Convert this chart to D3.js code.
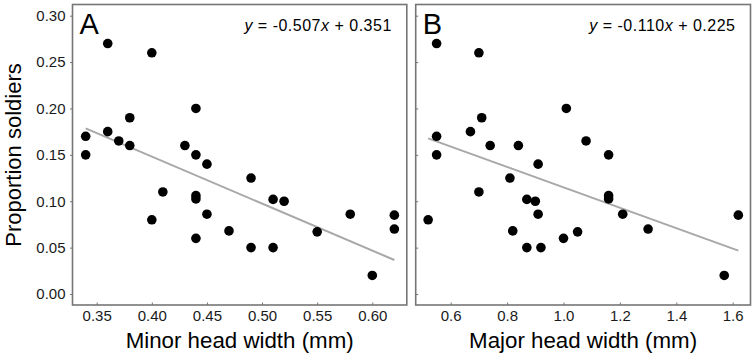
<!DOCTYPE html>
<html>
<head>
<meta charset="utf-8">
<script src="https://cdn.jsdelivr.net/npm/d3@7"></script>
<style>
  html, body { margin: 0; padding: 0; background: #fff; }
  svg { display: block; font-family: "Liberation Sans", Arial, sans-serif; }
</style>
</head>
<body>
<svg id="chart" width="755" height="358"></svg>
<script>
// ---- Data ----
const minorWidth = [0.34, 0.34, 0.36, 0.36, 0.37, 0.38, 0.38, 0.40, 0.40, 0.41, 0.43, 0.44, 0.44, 0.44, 0.44, 0.44, 0.45, 0.45, 0.47, 0.49, 0.49, 0.51, 0.51, 0.52, 0.55, 0.58, 0.60, 0.62, 0.62];
const soldiersA  = [0.17, 0.15, 0.27, 0.175, 0.165, 0.19, 0.16, 0.26, 0.08, 0.11, 0.16, 0.20, 0.15, 0.106, 0.1025, 0.06, 0.14, 0.086, 0.068, 0.125, 0.05, 0.102, 0.05, 0.10, 0.067, 0.086, 0.02, 0.085, 0.07];

const majorWidth = [0.55, 0.70, 1.01, 0.71, 0.55, 0.67, 0.74, 0.84, 1.08, 0.55, 1.16, 0.91, 0.81, 0.70, 0.87, 0.90, 1.16, 1.16, 0.91, 0.52, 1.21, 0.82, 1.05, 1.00, 0.87, 0.92, 1.30, 1.57, 1.62];
const soldiersB  = [0.27, 0.26, 0.20, 0.19, 0.17, 0.175, 0.16, 0.16, 0.165, 0.15, 0.15, 0.14, 0.125, 0.11, 0.102, 0.10, 0.106, 0.1025, 0.086, 0.08, 0.086, 0.068, 0.067, 0.06, 0.05, 0.05, 0.07, 0.02, 0.085];

const slopeA = -0.507, interceptA = 0.351;
const slopeB = -0.110, interceptB = 0.225;

const yTicks = [0.00, 0.05, 0.10, 0.15, 0.20, 0.25, 0.30];
const xTicksA = [0.35, 0.40, 0.45, 0.50, 0.55, 0.60];
const xTicksB = [0.6, 0.8, 1.0, 1.2, 1.4, 1.6];

const panelLabels = ["A", "B"];
const equations = [
  {slope: "-0.507", intercept: "0.351"},
  {slope: "-0.110", intercept: "0.225"}
];
const xTitles = ["Minor head width (mm)", "Major head width (mm)"];
const yTitle = "Proportion soldiers";

// ---- Layout ----
const svg = d3.select("#chart");
const frameTop = 4.5, frameBottom = 305;
const frames = [
  {left: 72.5, right: 406.8},
  {left: 415.7, right: 750.5}
];

const y = d3.scaleLinear().domain([0, 0.30]).range([294, 15.7]);
const xA = d3.scaleLinear().domain([0.35, 0.60]).range([96.7, 372.3]);
const xB = d3.scaleLinear().domain([0.6, 1.6]).range([450.7, 732.7]);

const frameColor = "#767676";
const tickFont = 15;

const panels = [
  {x: xA, xs: minorWidth, ys: soldiersA, slope: slopeA, intercept: interceptA, xTicks: xTicksA, fmt: d3.format(".2f")},
  {x: xB, xs: majorWidth, ys: soldiersB, slope: slopeB, intercept: interceptB, xTicks: xTicksB, fmt: d3.format(".1f")}
];

panels.forEach((p, i) => {
  const f = frames[i];
  const g = svg.append("g");

  // x axis ticks (inward) + labels
  const xAxis = g.append("g")
    .attr("transform", `translate(0,${frameBottom})`)
    .call(d3.axisBottom(p.x).tickValues(p.xTicks).tickFormat(p.fmt).tickSize(-2.5).tickPadding(5));
  xAxis.select(".domain").remove();
  xAxis.selectAll("line").attr("stroke", frameColor).attr("stroke-width", 1);
  xAxis.selectAll("text").attr("font-size", tickFont).attr("fill", "#1a1a1a")
    .attr("font-family", "'Liberation Sans', Arial, sans-serif")
    .attr("dy", "0.72em");

  // y axis ticks
  const yAxis = g.append("g")
    .attr("transform", `translate(${f.left},0)`)
    .call(d3.axisLeft(y).tickValues(yTicks).tickFormat(i === 0 ? d3.format(".2f") : "")
      .tickSize(i === 0 ? 2.5 : -2.5).tickPadding(4.5));
  yAxis.select(".domain").remove();
  yAxis.selectAll("line").attr("stroke", frameColor).attr("stroke-width", 1);
  yAxis.selectAll("text").attr("font-size", tickFont).attr("fill", "#1a1a1a")
    .attr("font-family", "'Liberation Sans', Arial, sans-serif");

  // frame
  g.append("rect")
    .attr("x", f.left).attr("y", frameTop)
    .attr("width", f.right - f.left).attr("height", frameBottom - frameTop)
    .attr("fill", "none").attr("stroke", frameColor).attr("stroke-width", 1.6);

  // regression line
  const xmin = d3.min(p.xs), xmax = d3.max(p.xs);
  g.append("line")
    .attr("x1", p.x(xmin)).attr("y1", y(p.slope * xmin + p.intercept))
    .attr("x2", p.x(xmax)).attr("y2", y(p.slope * xmax + p.intercept))
    .attr("stroke", "#a8a8a8").attr("stroke-width", 2);

  // points
  g.selectAll("circle.pt")
    .data(p.xs.map((v, k) => [v, p.ys[k]]))
    .join("circle")
    .attr("class", "pt")
    .attr("cx", d => p.x(d[0]))
    .attr("cy", d => y(d[1]))
    .attr("r", 4.8)
    .attr("fill", "#000");

  // panel letter
  g.append("text")
    .attr("x", f.left + 7).attr("y", 34.3)
    .attr("font-size", 29)
    .attr("fill", "#000")
    .text(panelLabels[i]);

  // equation
  const eq = g.append("text")
    .attr("x", f.right - 15).attr("y", 31)
    .attr("text-anchor", "end")
    .attr("font-size", 16)
    .attr("letter-spacing", 0.5)
    .attr("fill", "#000");
  eq.append("tspan").attr("font-style", "italic").text("y");
  eq.append("tspan").text(` = ${equations[i].slope}`);
  eq.append("tspan").attr("font-style", "italic").text("x");
  eq.append("tspan").text(` + ${equations[i].intercept}`);

  // x title
  g.append("text")
    .attr("x", (f.left + f.right) / 2).attr("y", 348.3)
    .attr("text-anchor", "middle")
    .attr("font-size", 22.3)
    .attr("fill", "#000")
    .text(xTitles[i]);
});

// y title
svg.append("text")
  .attr("transform", `translate(20.5,155) rotate(-90)`)
  .attr("text-anchor", "middle")
  .attr("font-size", 22)
  .attr("fill", "#000")
  .text(yTitle);
</script>
</body>
</html>
